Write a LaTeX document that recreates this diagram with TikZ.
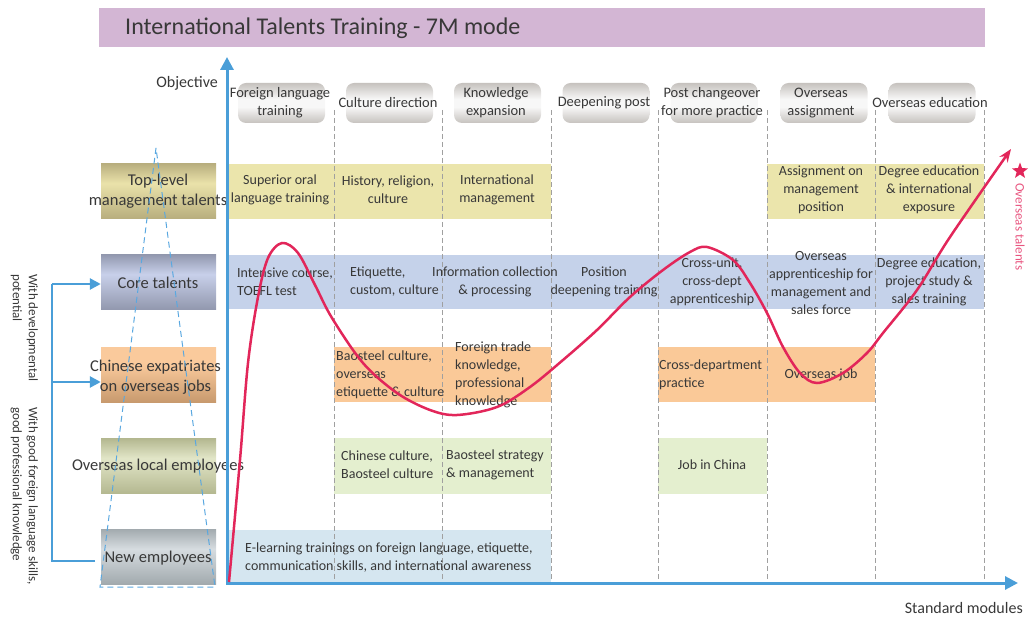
\documentclass[tikz,border=0pt]{standalone}
\usepackage{fontspec}
\setmainfont{Carlito}
\usetikzlibrary{arrows.meta,shapes.geometric}
\definecolor{titlebg}{HTML}{D3B6D4}
\definecolor{txt}{HTML}{383838}
\definecolor{axisblue}{HTML}{4A9ED8}
\definecolor{yelband}{HTML}{EBE5AC}
\definecolor{bluband}{HTML}{C5D2EA}
\definecolor{orgband}{HTML}{FAC998}
\definecolor{grnband}{HTML}{E4EFCF}
\definecolor{ltbband}{HTML}{D5E6F0}
\definecolor{curvered}{HTML}{E2265A}
\definecolor{pinktxt}{HTML}{E8557F}
\definecolor{coldash}{HTML}{A0A0A0}
\definecolor{trib}{HTML}{5AA8E0}
\definecolor{hdrg}{HTML}{C6C2BE}
\definecolor{hdrw}{HTML}{F7F7F7}
\definecolor{goldA}{HTML}{B8AE7E}
\definecolor{goldB}{HTML}{EAE2AA}
\definecolor{blueA}{HTML}{9298AE}
\definecolor{blueB}{HTML}{C8D0EA}
\definecolor{orA}{HTML}{C89A6E}
\definecolor{orB}{HTML}{FACA9C}
\definecolor{olA}{HTML}{B4B890}
\definecolor{olB}{HTML}{E2E6C8}
\definecolor{grA}{HTML}{A2AAAE}
\definecolor{grB}{HTML}{D6DCE0}
\pgfdeclareverticalshading{hdrshade}{100bp}{color(0bp)=(hdrg); color(25bp)=(hdrg); color(45bp)=(hdrw); color(55bp)=(hdrw); color(75bp)=(hdrg); color(100bp)=(hdrg)}
\pgfdeclareverticalshading{goldsh}{100bp}{color(0bp)=(goldA); color(25bp)=(goldA); color(57bp)=(goldB); color(75bp)=(goldA); color(100bp)=(goldA)}
\pgfdeclareverticalshading{bluesh}{100bp}{color(0bp)=(blueA); color(25bp)=(blueA); color(57bp)=(blueB); color(75bp)=(blueA); color(100bp)=(blueA)}
\pgfdeclareverticalshading{orsh}{100bp}{color(0bp)=(orA); color(25bp)=(orA); color(60bp)=(orB); color(75bp)=(orB); color(100bp)=(orB)}
\pgfdeclareverticalshading{olsh}{100bp}{color(0bp)=(olA); color(25bp)=(olA); color(57bp)=(olB); color(75bp)=(olA); color(100bp)=(olA)}
\pgfdeclareverticalshading{grsh}{100bp}{color(0bp)=(grA); color(25bp)=(grA); color(57bp)=(grB); color(75bp)=(grA); color(100bp)=(grA)}
\tikzset{
  cell/.style={font=\fontsize{14}{18}\selectfont, text=txt, inner sep=0pt, align=center},
  cellL/.style={cell, anchor=west, align=left},
  hdrbox/.style={rounded corners=8pt, minimum width=87pt, minimum height=40pt, inner sep=0pt, shading=hdrshade},
  hdrtxt/.style={font=\fontsize{14.5}{18}\selectfont, text=txt, inner sep=0pt, align=center},
  lblbox/.style={minimum width=115pt, minimum height=55pt, inner sep=0pt},
  lbltxt/.style={font=\fontsize{16.5}{20}\selectfont, text=txt, inner sep=0pt, align=center},
  colline/.style={coldash, line width=0.8pt, dash pattern=on 5pt off 3pt},
  axisline/.style={axisblue, line width=3pt},
  brk/.style={axisblue, line width=2.5pt},
  tri/.style={trib, line width=1pt, dash pattern=on 6pt off 4pt},
  vtxt/.style={font=\fontsize{13}{16}\selectfont, text=txt, inner sep=0pt, align=left, rotate=-90, anchor=north west},
}
\begin{document}
\begin{tikzpicture}[x=1pt,y=-1pt]
\useasboundingbox (0,0) rectangle (1035,617);
% title
\node[fill=titlebg, minimum width=886pt, minimum height=39pt, inner sep=0pt, anchor=north west] (title) at (99,8) {};
\node[anchor=west, font=\fontsize{24}{28}\selectfont, text=txt, inner sep=0pt] (titletext) at (125,28) {International Talents Training - 7M mode};
% bands
\fill[yelband] (229,164) rectangle (551,219);
\fill[yelband] (767,164) rectangle (984,219);
\fill[bluband] (229,255) rectangle (984,309);
\fill[orgband] (334,347) rectangle (551,402);
\fill[orgband] (658,347) rectangle (875,402);
\fill[grnband] (334,438) rectangle (551,494);
\fill[grnband] (658,438) rectangle (767,494);
\fill[ltbband] (229,530) rectangle (551,583);
% column lines
\foreach \x in {334,442,551,658,767,875,984} \draw[colline] (\x,110) -- (\x,583);
% header boxes
\node[hdrbox] (h1) at (281.5,103) {};
\node[hdrbox] (h2) at (389.5,103) {};
\node[hdrbox] (h3) at (497.5,103) {};
\node[hdrbox] (h4) at (606,103) {};
\node[hdrbox] (h5) at (714,103) {};
\node[hdrbox] (h6) at (824,103) {};
\node[hdrbox] (h7) at (932,103) {};
\node[hdrtxt] (t1) at (280,103) {Foreign language\\training};
\node[hdrtxt] (t2) at (388,103) {Culture direction};
\node[hdrtxt] (t3) at (496,103) {Knowledge\\expansion};
\node[hdrtxt] (t4) at (604,103) {Deepening post};
\node[hdrtxt] (t5) at (712,103) {Post changeover\\for more practice};
\node[hdrtxt] (t6) at (821,103) {Overseas\\assignment};
\node[hdrtxt] (t7) at (930,103) {Overseas education};
% label boxes
\node[lblbox, shading=goldsh] (lb1) at (158.5,191) {};
\node[lblbox, shading=bluesh] (lb2) at (158.5,282) {};
\node[lblbox, shading=orsh] (lb3) at (158.5,374.5) {};
\node[lblbox, shading=olsh] (lb4) at (158.5,466) {};
\node[lblbox, shading=grsh] (lb5) at (158.5,556.5) {};
\node[lbltxt] (l1) at (158,191) {Top-level\\management talents};
\node[lbltxt] (l2) at (158,283) {Core talents};
\node[lbltxt] (l3) at (155.5,377) {Chinese expatriates\\on overseas jobs};
\node[lbltxt] (l4) at (158,466) {Overseas local employees};
\node[lbltxt] (l5) at (158,558) {New employees};
% dashed triangle
\coordinate (apex) at (156,148);
\coordinate (tl) at (100,587);
\coordinate (tr) at (215,587);
\draw[tri] (apex) -- (tl) -- (tr) -- cycle;
% bracket
\coordinate (bt) at (52,284);
\coordinate (bm) at (52,382);
\coordinate (bb) at (52,561);
\coordinate (be) at (95,561);
\draw[brk] (be) -- (bb) -- (bt);
\draw[brk, -{Triangle[length=11pt,width=11pt]}] (bt) -- (lb2.west |- bt);
\draw[brk, -{Triangle[length=11pt,width=11pt]}] (bm) -- (lb3.west |- bm);
\node[vtxt] (v1) at (38,274) {With developmental\\potential};
\node[vtxt] (v2) at (38,407) {With good foreign language skills,\\good professional knowledge};
% axes
\coordinate (O) at (227,583);
\coordinate (ytip) at (227,57);
\coordinate (xtip) at (1018,583);
\draw[axisline, {Triangle[length=13pt,width=13pt]}-{Triangle[length=13pt,width=13pt]}] (ytip) -- (O) -- (xtip);
\node[anchor=east, font=\fontsize{16}{18}\selectfont, text=txt, inner sep=0pt] (obj) at (218,83) {Objective};
\node[anchor=east, font=\fontsize{16}{18}\selectfont, text=txt, inner sep=0pt] (std) at (1023,608) {Standard modules};
% cells row 1
\node[cell] (c11) at (280,190) {Superior oral\\language training};
\node[cell] (c12) at (388,190) {History, religion,\\culture};
\node[cell] (c13) at (497,190) {International\\management};
\node[cell] (c16) at (821,190) {Assignment on\\management\\position};
\node[cell] (c17) at (929,190) {Degree education\\\& international\\exposure};
% row 2
\node[cellL] (c21) at (237,282) {Intensive course,\\TOEFL test};
\node[cellL] (c22) at (350,282) {Etiquette,\\custom, culture};
\node[cell] (c23) at (495,282) {Information collection\\\& processing};
\node[cell] (c24) at (604,282) {Position\\deepening training};
\node[cell] (c25) at (712,282) {Cross-unit,\\cross-dept\\apprenticeship};
\node[cell] (c26) at (821,283) {Overseas\\apprenticeship for\\management and\\sales force};
\node[cell] (c27) at (929,282) {Degree education,\\project study \&\\sales training};
% row 3
\node[cellL] (c32) at (336,375) {Baosteel culture,\\overseas\\etiquette \& culture};
\node[cellL] (c33) at (455,375) {Foreign trade\\knowledge,\\professional\\knowledge};
\node[cellL] (c35) at (659,375) {Cross-department\\practice};
\node[cell] (c36) at (821,375) {Overseas job};
% row 4
\node[cellL] (c42) at (341,465) {Chinese culture,\\Baosteel culture};
\node[cellL] (c43) at (446,465) {Baosteel strategy\\\& management};
\node[cell] (c45) at (712,465) {Job in China};
% row 5
\node[cellL] (c51) at (245,558) {E-learning trainings on foreign language, etiquette,\\communication skills, and international awareness};
% curve
\draw[curvered, line width=2.5pt, -{Stealth[length=13pt,width=10pt]}] plot[smooth, tension=0.55] coordinates {
 (229,582) (240,460) (248,363) (258,297) (268,258) (282,243) (298,253) (315,285) (332,318) (363,363) (397,393) (430,410) (457,415) (497,407) (530,387) (563,360) (597,330) (630,297) (663,270) (690,252) (707,247) (733,260) (750,283) (767,313) (783,347) (800,373) (817,383) (843,373) (867,353) (883,333) (917,290) (950,237) (1011,149)};
% star + overseas talents
\node[star, star points=5, star point ratio=2.4, fill=curvered, minimum size=17pt, inner sep=0pt] (star) at (1020,171) {};
\node[rotate=-90, anchor=west, text=pinktxt, font=\fontsize{13}{15}\selectfont, inner sep=0pt] (ot) at (1020,183) {Overseas talents};
\end{tikzpicture}
\end{document}
